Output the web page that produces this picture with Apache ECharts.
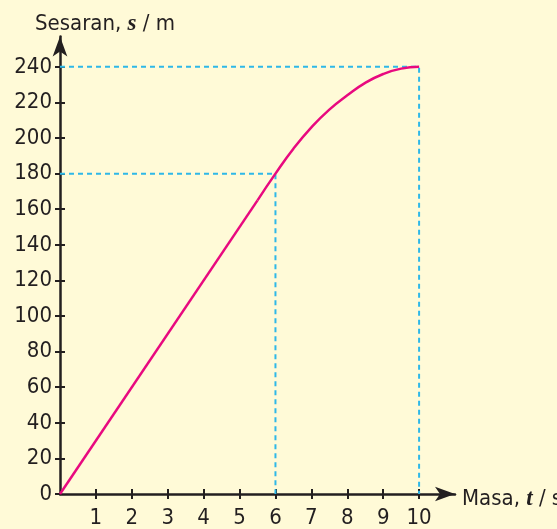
<!DOCTYPE html>
<html>
<head>
<meta charset="utf-8">
<script src="https://cdn.jsdelivr.net/npm/echarts@6/dist/echarts.min.js"></script>
<style>
html,body{margin:0;padding:0;background:#FFFAD7;}
#c{width:557px;height:529px;}
</style>
</head>
<body>
<div id="c"></div>
<script>
// Data
const linearTimes = [0, 5.5];
const linearDisplacements = [0, 165];
const curveTimes = [5.5, 6, 6.5, 7, 7.5, 8, 8.5, 9, 9.5, 10];
const curveDisplacements = [165, 180, 194, 206, 216, 224, 231, 236, 239, 240];
const guide180 = [[0, 180], [6, 180], [6, 0]];
const guide240 = [[0, 240], [10, 240], [10, 0]];
const xTickValues = [1, 2, 3, 4, 5, 6, 7, 8, 9, 10];
const yTickValues = [0, 20, 40, 60, 80, 100, 120, 140, 160, 180, 200, 220, 240];
const yLabelValues = [0, 20, 40, 60, 80, 100, 120, 140, 160, 180, 200, 220, 240];

const FONT = '"DejaVu Sans Condensed", "Liberation Sans", sans-serif';
const INK = '#231F20';
const chart = echarts.init(document.getElementById('c'));

const baseX = {type: 'value', min: 0, max: 11, position: 'bottom', gridIndex: 0, splitLine: {show: false}};
const baseY = {type: 'value', min: 0, max: 257, position: 'left', gridIndex: 0, splitLine: {show: false}};

chart.setOption({
  backgroundColor: '#FFFAD7',
  animation: false,
  grid: {left: 60, right: 102, top: 36.6, bottom: 29, containLabel: false},
  xAxis: [
    Object.assign({}, baseX, {
      axisLine: {show: true, onZero: false, symbol: ['none', 'arrow'], symbolSize: [11, 20], lineStyle: {color: INK, width: 2.5}},
      axisTick: {show: true, inside: false, length: 5, customValues: xTickValues, lineStyle: {color: INK, width: 2}},
      axisLabel: {show: true, customValues: xTickValues, margin: 13, color: INK, fontFamily: FONT, fontSize: 22}
    }),
    Object.assign({}, baseX, {
      axisLine: {show: false},
      axisTick: {show: true, inside: true, length: 5, customValues: xTickValues, lineStyle: {color: INK, width: 2}},
      axisLabel: {show: false}
    })
  ],
  yAxis: [
    Object.assign({}, baseY, {
      axisLine: {show: true, onZero: false, symbol: ['none', 'arrow'], symbolSize: [11, 20], lineStyle: {color: INK, width: 2.5}},
      axisTick: {show: true, inside: false, length: 5, customValues: yTickValues, lineStyle: {color: INK, width: 2}},
      axisLabel: {show: true, customValues: yLabelValues, margin: 8, color: INK, fontFamily: FONT, fontSize: 22}
    }),
    Object.assign({}, baseY, {
      axisLine: {show: false},
      axisTick: {show: true, inside: true, length: 5, customValues: yTickValues.slice(1), lineStyle: {color: INK, width: 2}},
      axisLabel: {show: false}
    })
  ],
  graphic: [
    {
      type: 'text', left: 35, top: 13,
      style: {
        text: '{a|Sesaran, }{b|s}{a| / m}',
        rich: {
          a: {fontFamily: FONT, fontSize: 22, fill: INK},
          b: {fontFamily: '"Liberation Serif", serif', fontStyle: 'italic', fontWeight: 'bold', fontSize: 23, fill: INK}
        }
      }
    },
    {
      type: 'text', left: 462, top: 488,
      style: {
        text: '{a|Masa, }{b|t}{a| / s}',
        rich: {
          a: {fontFamily: FONT, fontSize: 22, fill: INK},
          b: {fontFamily: '"Liberation Serif", serif', fontStyle: 'italic', fontWeight: 'bold', fontSize: 23, fill: INK}
        }
      }
    }
  ],
  series: [
    {
      type: 'line', xAxisIndex: 0, yAxisIndex: 0, data: guide180, symbol: 'none', z: 1,
      lineStyle: {color: '#2EB8E8', width: 2, type: [5, 4]}
    },
    {
      type: 'line', xAxisIndex: 0, yAxisIndex: 0, data: guide240, symbol: 'none', z: 1,
      lineStyle: {color: '#2EB8E8', width: 2, type: [5, 4]}
    },
    {
      type: 'line', xAxisIndex: 0, yAxisIndex: 0, symbol: 'none', z: 3,
      data: linearTimes.map((t, i) => [t, linearDisplacements[i]]),
      lineStyle: {color: '#E8097F', width: 2.5}
    },
    {
      type: 'line', xAxisIndex: 0, yAxisIndex: 0, symbol: 'none', smooth: true, z: 3,
      data: curveTimes.map((t, i) => [t, curveDisplacements[i]]),
      lineStyle: {color: '#E8097F', width: 2.5}
    }
  ]
});
</script>
</body>
</html>
